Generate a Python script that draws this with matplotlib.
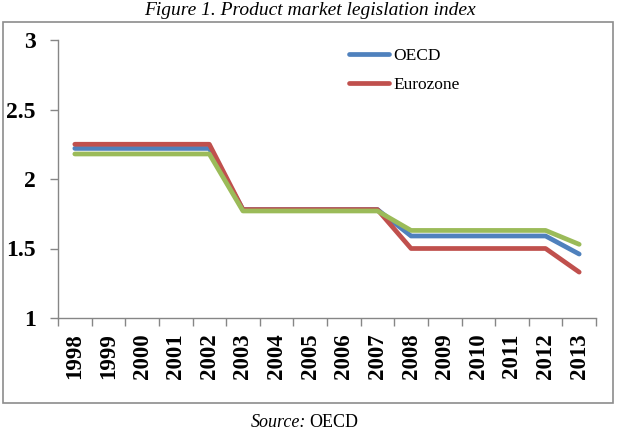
import numpy as np
import matplotlib.pyplot as plt
from matplotlib.patches import Rectangle

years = [str(y) for y in range(1998, 2014)]
oecd = [2.22, 2.22, 2.22, 2.22, 2.22, 1.78, 1.78, 1.78, 1.78, 1.78,
        1.59, 1.59, 1.59, 1.59, 1.59, 1.46]
eurozone = [2.25, 2.25, 2.25, 2.25, 2.25, 1.78, 1.78, 1.78, 1.78, 1.78,
            1.50, 1.50, 1.50, 1.50, 1.50, 1.33]
third = [2.18, 2.18, 2.18, 2.18, 2.18, 1.77, 1.77, 1.77, 1.77, 1.77,
         1.63, 1.63, 1.63, 1.63, 1.63, 1.53]
y_ticks = [1, 1.5, 2, 2.5, 3]
y_labels = ['1', '1.5', '2', '2.5', '3']

serif = 'Liberation Serif'
fig = plt.figure(figsize=(6.18, 4.30), dpi=100)
ax = fig.add_axes([58/618, 1-318/430, 538/618, 278/430])

x = np.arange(len(years))
ax.plot(x, oecd, color='#4F81BD', lw=3.4, label='OECD', solid_capstyle='round')
ax.plot(x, eurozone, color='#C0504D', lw=3.4, label='Eurozone', solid_capstyle='round')
ax.plot(x, third, color='#9BBB59', lw=3.4, solid_capstyle='round')

ax.set_xlim(-0.5, len(years) - 0.5)
ax.set_ylim(1, 3)
ax.set_yticks(y_ticks)
ax.set_yticklabels(y_labels, fontfamily=serif, fontweight='bold', fontsize=17)
ax.set_xticks(x)
ax.set_xticklabels(years, rotation=90, fontfamily=serif, fontweight='bold',
                   fontsize=16.5, va='top', ha='center')
ax.set_xticks(np.arange(-0.5, len(years)), minor=True)
ax.tick_params(axis='x', which='major', length=0, pad=11)
ax.tick_params(axis='x', which='minor', length=6, color='#868686', width=1)
ax.tick_params(axis='y', length=6, color='#868686', width=1, pad=10)

for s in ['top', 'right']:
    ax.spines[s].set_visible(False)
for s in ['left', 'bottom']:
    ax.spines[s].set_color('#868686')
    ax.spines[s].set_linewidth(1)

leg = ax.legend(loc='upper left', bbox_to_anchor=((349-58)/538, (318-48)/278),
                frameon=False, prop={'family': serif, 'size': 12.5},
                handlelength=2.3, handletextpad=0.25, labelspacing=0.75,
                borderpad=0, borderaxespad=0)

# outer chart border
fig.patches.append(Rectangle((3/618, 1-403/430), 610/618, 381/430,
                             transform=fig.transFigure, fill=False,
                             edgecolor='#8c8c8c', lw=1.2))

fig.text(310/618, 1-15/430, 'Figure 1. Product market legislation index',
         ha='center', va='baseline', fontfamily=serif, style='italic', fontsize=14)
fig.text(306/618, 1-427/430, 'Source:', ha='right', va='baseline',
         fontfamily=serif, style='italic', fontsize=13)
fig.text(309/618, 1-427/430, 'OECD', ha='left', va='baseline',
         fontfamily=serif, fontsize=13)

fig.savefig('out.png', dpi=100)
